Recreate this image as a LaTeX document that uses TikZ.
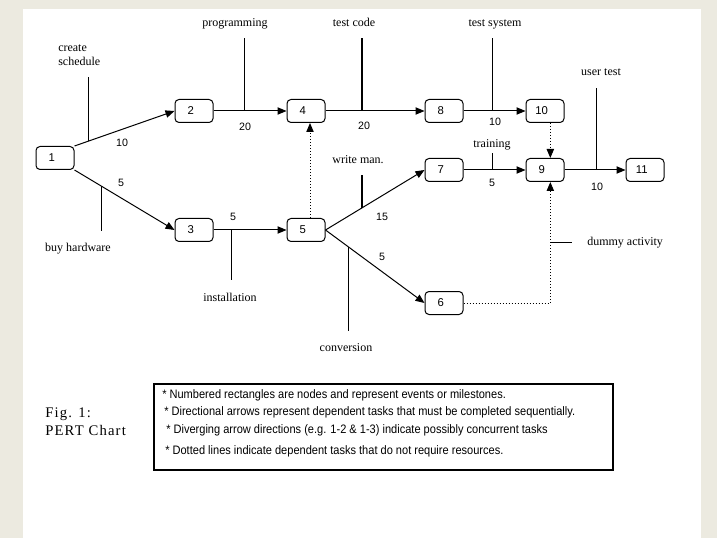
\documentclass[tikz,border=0pt]{standalone}
\usepackage{fontspec}
\setmainfont{Liberation Serif}
\newfontfamily\numfont{Liberation Sans}
\newfontfamily\notefont[FakeStretch=0.9]{Liberation Sans}
\newfontfamily\figfont[LetterSpace=8]{Liberation Serif}
\usetikzlibrary{arrows.meta}
\definecolor{pagebeige}{RGB}{236,234,224}

\begin{document}
\begin{tikzpicture}[
        x=0.75pt,
        y=-0.75pt,
        every node/.style={inner sep=0pt, font=\fontsize{9}{10.5}\selectfont},
        event/.style={
            draw,
            line width=0.75pt,
            rounded corners=3pt,
            minimum width=28.5pt,
            minimum height=17.25pt,
            font=\numfont\fontsize{8.5}{10}\selectfont,
            execute at begin node=\hspace*{-5pt}
        },
        task/.style={line width=0.75pt, -{Triangle[length=6.75pt,width=5.5pt]}},
        dummy/.style={task, dash pattern=on 0.75pt off 1.5pt},
        taskline/.style={line width=0.75pt},
        boldline/.style={line width=1.5pt},
        tasklabel/.style={anchor=base},
        dur/.style={font=\numfont\fontsize{8}{9}\selectfont},
        note/.style={anchor=base west, font=\notefont\fontsize{9.2}{10}\selectfont}
    ]
        % page and white sheet
        \fill[pagebeige] (0,0) rectangle (717,538);
        \fill[white] (23,9) rectangle (701,538);

        % events (pixel coordinates, y downwards)
        \foreach \n/\x/\y in {1/55/158, 2/194/111, 3/194/230, 4/306/111,
                5/306/230, 6/444/303, 7/444/170, 8/444/111, 9/545/170,
                10/545/111, 11/645/170}
            \node[event] (n\n) at (\x,\y) {\n};

        % tasks
        \draw[task] (n1.north east) -- coordinate[pos=0.14] (cSched) (n2.west);
        \draw[task] (n1.south east) -- coordinate[pos=0.27] (cBuy) (n3.west);
        \draw[task] (n2.east) -- coordinate[pos=0.43] (cProg) (n4.west);
        \draw[task] (n3.east) -- coordinate[pos=0.25] (cInst) (n5.west);
        \draw[task] (n4.east) -- coordinate[pos=0.37] (cCode) (n8.west);
        \draw[task] (n5.east) -- coordinate[pos=0.37] (cMan) (n7.west);
        \draw[task] (n5.east) -- coordinate[pos=0.23] (cConv) (n6.west);
        \draw[task] (n8.east) -- coordinate[pos=0.47] (cSys) (n10.west);
        \draw[task] (n7.east) -- coordinate[pos=0.47] (cTrain) (n9.west);
        \draw[task] (n9.east) -- coordinate[pos=0.52] (cUser) (n11.west);

        % dummy activities
        \draw[dummy] ([xshift=3pt]n5.north) -- ([xshift=3pt]n4.south);
        \draw[dummy] ([xshift=4pt]n10.south) -- ([xshift=4pt]n9.north);
        \draw[dummy] (n6.east) -| coordinate[pos=0.75] (cDummy)
            ([xshift=4pt]n9.south);

        % durations
        \node[dur] (d12) at (122,143) {10};
        \node[dur] (d13) at (121,183) {5};
        \node[dur] (d24) at (245,127) {20};
        \node[dur] (d35) at (233,217) {5};
        \node[dur] (d48) at (364,126) {20};
        \node[dur] (d57) at (382,217) {15};
        \node[dur] (d56) at (382,257) {5};
        \node[dur] (d810) at (495,122) {10};
        \node[dur] (d79) at (492,183) {5};
        \node[dur] (d911) at (597,187) {10};

        % task names
        \node[tasklabel, anchor=base west, align=left] (tSched)
            at (58,66) {create\\schedule};
        \node[tasklabel] (tProg) at (235,27) {programming};
        \node[tasklabel] (tCode) at (354,27) {test code};
        \node[tasklabel] (tSys) at (495,27) {test system};
        \node[tasklabel] (tUser) at (601,76) {user test};
        \node[tasklabel] (tTrain) at (492,148) {training};
        \node[tasklabel] (tMan) at (358,164) {write man.};
        \node[tasklabel] (tBuy) at (78,252) {buy hardware};
        \node[tasklabel] (tInst) at (230,301) {installation};
        \node[tasklabel] (tConv) at (346,351) {conversion};
        \node[tasklabel, anchor=base west] (tDummy) at (587,246) {dummy activity};

        % pointers from names to tasks
        \draw[taskline, shorten >=8pt] (cSched) -- (cSched |- tSched.south);
        \draw[taskline, shorten >=6pt] (cProg) -- (cProg |- tProg.south);
        \draw[boldline, shorten >=8pt] (cCode) -- (cCode |- tCode.south);
        \draw[taskline, shorten >=6pt] (cSys) -- (cSys |- tSys.south);
        \draw[taskline, shorten >=9pt] (cUser) -- (cUser |- tUser.south);
        \draw[taskline, shorten >=1.5pt] (cTrain) -- (cTrain |- tTrain.south);
        \draw[boldline, shorten >=8pt] (cMan) -- (cMan |- tMan.south);
        \draw[taskline, shorten >=9pt] (cBuy) -- (cBuy |- tBuy.north);
        \draw[taskline, shorten >=9pt] (cInst) -- (cInst |- tInst.north);
        \draw[taskline, shorten >=9pt] (cConv) -- (cConv |- tConv.north);
        \draw[taskline, shorten >=11pt] (cDummy) -- (cDummy -| tDummy.west);

        % caption
        \node[anchor=base west, font=\figfont\fontsize{11}{13}\selectfont]
            (tFig) at (45,417) {Fig. 1:};
        \node[anchor=base west, font=\figfont\fontsize{11}{13}\selectfont]
            (tChart) at (45,435) {PERT Chart};

        % legend
        \draw[line width=1.1pt] (154,384) rectangle (613,470);
        \node[note] (note1) at (162,398)
            {* Numbered rectangles are nodes and represent events or milestones.};
        \node[note] (note2) at (164,415)
            {* Directional arrows represent dependent tasks that must be completed sequentially.};
        \node[note] (note3) at (166,433)
            {* Diverging arrow directions (e.g. 1-2 \& 1-3) indicate possibly concurrent tasks};
        \node[note] (note4) at (165,454)
            {* Dotted lines indicate dependent tasks that do not require resources.};

    \end{tikzpicture}
\end{document}
